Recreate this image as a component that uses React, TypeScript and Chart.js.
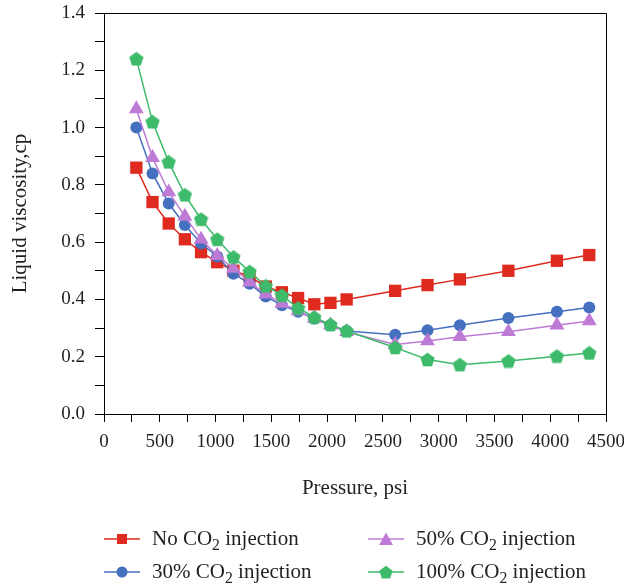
import React, { useEffect, useRef } from "react";
import { Chart, registerables } from "chart.js";

Chart.register(...registerables);

// ---- data ----
const pressurePsi = [290, 435, 580, 725, 870, 1015, 1160, 1305, 1450, 1595, 1740, 1885, 2030, 2175, 2610, 2900, 3190, 3625, 4060, 4350];
const noCO2 = [0.86, 0.74, 0.665, 0.61, 0.565, 0.53, 0.5, 0.48, 0.445, 0.425, 0.405, 0.383, 0.388, 0.4, 0.43, 0.45, 0.47, 0.5, 0.535, 0.555];
const co2_30 = [1.0, 0.84, 0.735, 0.66, 0.595, 0.55, 0.49, 0.455, 0.41, 0.38, 0.357, 0.333, 0.31, 0.29, 0.277, 0.292, 0.31, 0.335, 0.357, 0.372];
const co2_50 = [1.065, 0.895, 0.775, 0.69, 0.61, 0.553, 0.508, 0.46, 0.418, 0.386, 0.36, 0.334, 0.31, 0.287, 0.243, 0.255, 0.27, 0.287, 0.31, 0.325];
const co2_100 = [1.24, 1.02, 0.88, 0.765, 0.68, 0.61, 0.548, 0.497, 0.447, 0.414, 0.37, 0.338, 0.312, 0.29, 0.232, 0.19, 0.172, 0.185, 0.202, 0.213];

const seriesNames = ["No CO\u2082 injection", "30% CO\u2082 injection", "50% CO\u2082 injection", "100% CO\u2082 injection"];
const seriesColors = ["#DE2A1F", "#4570BF", "#BE7BD6", "#3EBA6B"];

const xTitle = "Pressure, psi";
const yTitle = "Liquid viscosity,cp";
const xMin = 0, xMax = 4500, xStep = 250, xLabelStep = 500;
const yMin = 0, yMax = 1.4, yStep = 0.1;

const FONT = "'Liberation Serif', 'Times New Roman', serif";

function makePentagon(size: number, color: string): HTMLCanvasElement {
  const c = document.createElement("canvas");
  c.width = size;
  c.height = size;
  const ctx = c.getContext("2d")!;
  const r = size / 2;
  ctx.beginPath();
  for (let i = 0; i < 5; i++) {
    const a = -Math.PI / 2 + (i * 2 * Math.PI) / 5;
    const px = r + r * Math.cos(a);
    const py = r + 0.6 + r * Math.sin(a);
    if (i === 0) ctx.moveTo(px, py);
    else ctx.lineTo(px, py);
  }
  ctx.closePath();
  ctx.fillStyle = color;
  ctx.fill();
  return c;
}

const framePlugin = {
  id: "frame",
  afterDraw(chart: any) {
    const { ctx, chartArea } = chart;
    ctx.save();
    ctx.strokeStyle = "#000";
    ctx.lineWidth = 1;
    const l = Math.round(chartArea.left) + 0.5;
    const t = Math.round(chartArea.top) + 0.5;
    const r = Math.round(chartArea.right) + 0.5;
    const b = Math.round(chartArea.bottom) + 0.5;
    ctx.beginPath();
    ctx.moveTo(l, t);
    ctx.lineTo(r, t);
    ctx.lineTo(r, b);
    ctx.stroke();
    ctx.restore();
  },
};

function LegendMarker({ kind, color }: { kind: number; color: string }) {
  let shape: any = null;
  if (kind === 0) shape = <rect x={13} y={2} width={10} height={10} fill={color} />;
  else if (kind === 1) shape = <circle cx={18} cy={7} r={5.5} fill={color} />;
  else if (kind === 2) shape = <polygon points="18,0.5 25,13 11,13" fill={color} />;
  else {
    const pts: string[] = [];
    for (let i = 0; i < 5; i++) {
      const a = -Math.PI / 2 + (i * 2 * Math.PI) / 5;
      pts.push(`${18 + 7 * Math.cos(a)},${7.8 + 7 * Math.sin(a)}`);
    }
    shape = <polygon points={pts.join(" ")} fill={color} />;
  }
  return (
    <svg width={36} height={14} style={{ display: "block" }}>
      <line x1={0} y1={7} x2={36} y2={7} stroke={color} strokeWidth={1.5} />
      {shape}
    </svg>
  );
}

function LegendItem({ idx, left, top }: { idx: number; left: number; top: number }) {
  const name = seriesNames[idx];
  const parts = name.split("\u2082");
  return (
    <div style={{ position: "absolute", left, top, height: 0 }}>
      <div style={{ position: "absolute", left: 0, top: -7 }}>
        <LegendMarker kind={idx} color={seriesColors[idx]} />
      </div>
      <div
        style={{
          position: "absolute",
          left: 48,
          top: -13,
          whiteSpace: "nowrap",
          fontFamily: FONT,
          fontSize: 21,
          lineHeight: "24px",
          color: "#231F20",
        }}
      >
        {parts[0]}
        <sub style={{ fontSize: "0.75em", verticalAlign: "-0.3em" }}>2</sub>
        {parts[1]}
      </div>
    </div>
  );
}

export default function App() {
  const canvasRef = useRef<HTMLCanvasElement | null>(null);

  useEffect(() => {
    if (!canvasRef.current) return;
    const series = [noCO2, co2_30, co2_50, co2_100];
    const styles: any[] = ["rect", "circle", "triangle", makePentagon(15, seriesColors[3])];
    const radii = [8.7, 6, 8.6, 7.5];
    const datasets = series.map((vals, i) => ({
      label: seriesNames[i],
      data: pressurePsi.map((p, j) => ({ x: p, y: vals[j] })),
      borderColor: seriesColors[i],
      backgroundColor: seriesColors[i],
      borderWidth: 1.5,
      pointStyle: styles[i],
      pointRadius: radii[i],
      pointBorderWidth: 0,
      pointBackgroundColor: seriesColors[i],
      pointBorderColor: seriesColors[i],
      tension: 0,
      order: 4 - i,
    }));

    const chart = new Chart(canvasRef.current, {
      type: "line",
      data: { datasets },
      options: {
        animation: false,
        responsive: false,
        maintainAspectRatio: false,
        layout: { padding: { left: 0, right: 18, top: 13, bottom: 0 } },
        plugins: { legend: { display: false }, tooltip: { enabled: false } },
        scales: {
          x: {
            type: "linear",
            min: xMin,
            max: xMax,
            ticks: {
              stepSize: xStep,
              autoSkip: false,
              maxRotation: 0,
              padding: 9,
              color: "#231F20",
              font: { family: FONT, size: 19 },
              callback: (v: any) => (Math.round(v) % xLabelStep === 0 ? String(Math.round(v)) : ""),
            },
            grid: { drawOnChartArea: false, drawTicks: true, tickLength: 8, color: "#000", tickColor: "#000", lineWidth: 1 },
            border: { display: true, color: "#000", width: 1 },
            title: {
              display: true,
              text: xTitle,
              color: "#231F20",
              font: { family: FONT, size: 21 },
              padding: { top: 0, bottom: 85 },
            },
            afterFit: (s: any) => {
              s.height = 172;
              s.paddingLeft = 0;
              s.paddingRight = 0;
            },
          },
          y: {
            type: "linear",
            min: yMin,
            max: yMax,
            ticks: {
              stepSize: yStep,
              autoSkip: false,
              padding: 10,
              color: "#231F20",
              font: { family: FONT, size: 19 },
              callback: (v: any) => {
                const n = Math.round(v * 10);
                return n % 2 === 0 ? (n / 10).toFixed(1) : "";
              },
            },
            grid: { drawOnChartArea: false, drawTicks: true, tickLength: 9, color: "#000", tickColor: "#000", lineWidth: 1 },
            border: { display: true, color: "#000", width: 1 },
            title: {
              display: true,
              text: yTitle,
              color: "#231F20",
              font: { family: FONT, size: 21 },
              padding: { top: 8, bottom: 0 },
            },
            afterFit: (s: any) => {
              s.width = 104;
              s.paddingTop = 0;
              s.paddingBottom = 0;
            },
          },
        },
      },
      plugins: [framePlugin],
    });
    return () => chart.destroy();
  }, []);

  return (
    <div style={{ position: "fixed", left: 0, top: 0, width: 624, height: 586, background: "#fff" }}>
      <canvas ref={canvasRef} width={624} height={586} style={{ position: "absolute", left: 0, top: 0, width: 624, height: 586 }} />
      <LegendItem idx={0} left={104} top={539} />
      <LegendItem idx={1} left={104} top={572} />
      <LegendItem idx={2} left={368} top={539} />
      <LegendItem idx={3} left={368} top={572} />
    </div>
  );
}
